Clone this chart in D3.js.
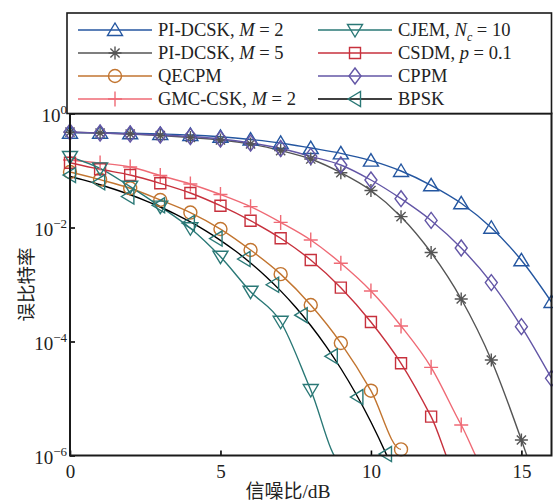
<!DOCTYPE html>
<html><head><meta charset="utf-8">
<script src="https://cdn.jsdelivr.net/npm/d3@7"></script>
<style>body{margin:0;background:#fff}svg{display:block}</style>
</head><body>
<svg id="c" width="553" height="504"></svg>
<script>
// ---- data ----
const snr = [0,1,2,3,4,5,6,7,8,9,10,11,12,13,14,15,16];
const piDcskM2 = [0.46,0.46,0.45,0.437,0.42,0.39,0.35,0.304,0.248,0.2,0.149,0.098,0.055,0.0266,0.0099,0.00266,4.93e-4];
const piDcskM5 = [0.47,0.455,0.437,0.411,0.379,0.343,0.292,0.224,0.159,0.0915,0.0446,0.0155,3.64e-3,5.57e-4,4.74e-5,1.87e-6,5e-8];
const qecpm = [0.094,0.069,0.0488,0.0304,0.0183,9.4e-3,4.03e-3,1.52e-3,4.37e-4,9.4e-5,1.37e-5,1.28e-6];
const gmcCsk = [0.153,0.135,0.115,0.0817,0.058,0.0379,0.0232,0.0123,6.04e-3,2.36e-3,7.7e-4,1.87e-4,3.52e-5,3.43e-6,4.4e-7];
const cjem = [0.173,0.109,0.052,0.0232,9.7e-3,3.07e-3,7.48e-4,2.22e-4,1.41e-5,7.7e-7];
const csdm = [0.137,0.105,0.0834,0.0596,0.0403,0.0241,0.01315,6.47e-3,2.69e-3,8.8e-4,2.2e-4,4.15e-5,4.8e-6,3.7e-7];
const cppm = [0.473,0.455,0.437,0.42,0.395,0.357,0.304,0.243,0.177,0.125,0.0681,0.032,0.0133,4.37e-3,1.08e-3,1.82e-4,2.26e-5];
const bpskLineSnr = [0,0.5,1,1.5,2,2.5,3,3.5,4,4.5,5,5.5,6,6.5,7,7.5,8,8.5,9,9.5,10,10.5,11];
const bpskLineBer = [0.0786,0.0671,0.0563,0.0464,0.0375,0.0297,0.0229,0.0172,0.0125,0.00879,0.00595,0.00386,0.00239,0.0014,7.73e-4,3.99e-4,1.91e-4,8.4e-5,3.36e-5,1.21e-5,3.87e-6,1.08e-6,2.61e-7];
const bpskSimSnr = [0,0.97,1.94,2.96,3.95,4.87,5.8,6.75,7.7,8.7,9.55,10.5];
const bpskSimBer = [0.083,0.062,0.035,0.0245,0.012,6.4e-3,2.8e-3,9.9e-4,2.9e-4,5.5e-5,1.06e-5,1.06e-6];
const xTicks = [0,5,10,15];
const yTickExp = [0,-2,-4,-6];
const xLabel = "信噪比/dB";
const yLabel = "误比特率";

const C = {blue:"#2456a0", gray:"#555555", orange:"#c27530", pink:"#ef6a75", teal:"#2a7876", red:"#c7313d", purple:"#6356a6", black:"#000"};

const series = [
  {x:snr, y:piDcskM2, color:C.blue, marker:"tri"},
  {x:snr, y:piDcskM5, color:C.gray, marker:"ast"},
  {x:snr, y:cppm, color:C.purple, marker:"dia"},
  {x:snr, y:qecpm, color:C.orange, marker:"circ"},
  {x:snr, y:gmcCsk, color:C.pink, marker:"plus"},
  {x:snr, y:csdm, color:C.red, marker:"sq"},
  {x:snr, y:cjem, color:C.teal, marker:"tridown"},
  {x:bpskLineSnr, y:bpskLineBer, color:C.black, marker:null},
  {x:bpskSimSnr, y:bpskSimBer, color:C.teal, marker:"trileft", noLine:true}
];

const L = 70, R = 551.5, T = 113.5, B = 455.5;
const x = d3.scaleLinear().domain([0,16]).range([L,R]);
const y = d3.scaleLog().domain([1e-6,1]).range([B,T]);
const svg = d3.select("#c");
const serif = "'Liberation Serif','Times New Roman',serif";

svg.append("defs").append("clipPath").attr("id","clip")
  .append("rect").attr("x",L).attr("y",T).attr("width",R-L).attr("height",B-T);

function markerPath(type){
  const p = d3.path();
  switch(type){
    case "tri": p.moveTo(0,-7); p.lineTo(7.5,5.5); p.lineTo(-7.5,5.5); p.closePath(); break;
    case "tridown": p.moveTo(0,7); p.lineTo(7.5,-5.5); p.lineTo(-7.5,-5.5); p.closePath(); break;
    case "trileft": p.moveTo(-7,0); p.lineTo(5.5,-7.5); p.lineTo(5.5,7.5); p.closePath(); break;
    case "circ": p.arc(0,0,6.5,0,2*Math.PI); break;
    case "sq": p.rect(-5.5,-5.5,11,11); break;
    case "dia": p.moveTo(0,-8); p.lineTo(6,0); p.lineTo(0,8); p.lineTo(-6,0); p.closePath(); break;
    case "plus": p.moveTo(-7,0); p.lineTo(7,0); p.moveTo(0,-7.5); p.lineTo(0,7.5); break;
    case "ast": { p.moveTo(0,-6.5); p.lineTo(0,6.5); p.moveTo(-6.5,0); p.lineTo(6.5,0);
      p.moveTo(-4.6,-4.6); p.lineTo(4.6,4.6); p.moveTo(-4.6,4.6); p.lineTo(4.6,-4.6); break; }
  }
  return p.toString();
}

const line = d3.line().x(d=>x(d[0])).y(d=>y(d[1])).curve(d3.curveMonotoneX);
const gLines = svg.append("g").attr("clip-path","url(#clip)");
const gMarks = svg.append("g");
series.forEach(s=>{
  const pts = s.x.map((v,i)=>[v,s.y[i]]);
  if(!s.noLine){
    gLines.append("path").attr("d",line(pts)).attr("fill","none")
      .attr("stroke",s.color).attr("stroke-width",1.4);
  }
  if(s.marker){
    gMarks.selectAll(null).data(pts.filter(d=>d[1]>=0.95e-6)).join("path")
      .attr("transform",d=>`translate(${x(d[0])},${y(d[1])})`)
      .attr("d",markerPath(s.marker)).attr("fill","none")
      .attr("stroke",s.color).attr("stroke-width",1.4);
  }
});

// axes
const xAxis = svg.append("g").attr("transform",`translate(0,${B})`)
  .call(d3.axisBottom(x).tickValues(xTicks).tickSizeInner(-5).tickSizeOuter(0).tickPadding(9));
const yAxis = svg.append("g").attr("transform",`translate(${L},0)`)
  .call(d3.axisLeft(y).tickValues(yTickExp.map(e=>Math.pow(10,e))).tickSizeInner(-5).tickSizeOuter(0).tickPadding(3).tickFormat(()=>""));
[xAxis,yAxis].forEach(g=>{
  g.select(".domain").remove();
  g.selectAll(".tick line").attr("stroke","#000").attr("stroke-width",1.6);
  g.selectAll("text").attr("font-family",serif).attr("font-size",19).attr("fill","#222");
});
yAxis.selectAll(".tick text").each(function(d){
  const t = d3.select(this).attr("dy",null).attr("y",7.5).attr("x",-3);
  const e = Math.round(Math.log10(d));
  t.append("tspan").text("10");
  t.append("tspan").attr("dy",-8).attr("font-size",13).text(e===0?"0":"\u2212"+(-e));
});

// frame
svg.append("rect").attr("x",L).attr("y",T).attr("width",R-L).attr("height",B-T)
  .attr("fill","none").attr("stroke","#1a1a1a").attr("stroke-width",2);

// axis labels
svg.append("text").attr("x",288).attr("y",498).attr("text-anchor","middle")
  .attr("font-family","'Noto Sans CJK SC',sans-serif").attr("font-size",19).attr("fill","#222")
  .text(xLabel.replace("/dB","")).append("tspan").attr("font-family",serif).attr("font-size",19.5).text("/dB");
svg.append("text").attr("transform",`translate(33,${(T+B)/2}) rotate(-90)`).attr("text-anchor","middle")
  .attr("font-family","'Noto Sans CJK SC',sans-serif").attr("font-size",18.5).attr("fill","#222").text(yLabel);

// legend
const legend = [
  {color:C.blue, marker:"tri", parts:[["PI-DCSK, ",""],["M","i"],[" = 2",""]], col:0,row:0},
  {color:C.gray, marker:"ast", parts:[["PI-DCSK, ",""],["M","i"],[" = 5",""]], col:0,row:1},
  {color:C.orange, marker:"circ", parts:[["QECPM",""]], col:0,row:2},
  {color:C.pink, marker:"plus", parts:[["GMC-CSK, ",""],["M","i"],[" = 2",""]], col:0,row:3},
  {color:C.teal, marker:"tridown", parts:[["CJEM, ",""],["N","i"],["c","sub"],[" = 10",""]], col:1,row:0},
  {color:C.red, marker:"sq", parts:[["CSDM, ",""],["p","i"],[" = 0.1",""]], col:1,row:1},
  {color:C.purple, marker:"dia", parts:[["CPPM",""]], col:1,row:2},
  {color:C.black, markerColor:C.teal, marker:"trileft", parts:[["BPSK",""]], col:1,row:3}
];
svg.append("rect").attr("x",67).attr("y",13).attr("width",R-67).attr("height",T-13)
  .attr("fill","#fff").attr("stroke","#1a1a1a").attr("stroke-width",1.6);
const colX = [78,318], rowY = [30,53,76,99];
legend.forEach(e=>{
  const x0 = colX[e.col], yy = rowY[e.row];
  svg.append("line").attr("x1",x0).attr("x2",x0+74).attr("y1",yy).attr("y2",yy)
    .attr("stroke",e.color).attr("stroke-width",1.4);
  svg.append("path").attr("transform",`translate(${x0+37},${yy})`).attr("d",markerPath(e.marker))
    .attr("fill","none").attr("stroke",e.markerColor||e.color).attr("stroke-width",1.4);
  const t = svg.append("text").attr("x",x0+80).attr("y",yy+6).attr("font-family",serif)
    .attr("font-size",18.5).attr("fill","#222");
  let sub=false;
  e.parts.forEach(p=>{
    const ts = t.append("tspan").text(p[0]);
    if(p[1]==="i") ts.attr("font-style","italic");
    if(p[1]==="sub"){ ts.attr("font-style","italic").attr("font-size",12).attr("dy",5); sub=true; }
    else if(sub){ ts.attr("dy",-5); sub=false; }
  });
});
</script>
</body></html>
